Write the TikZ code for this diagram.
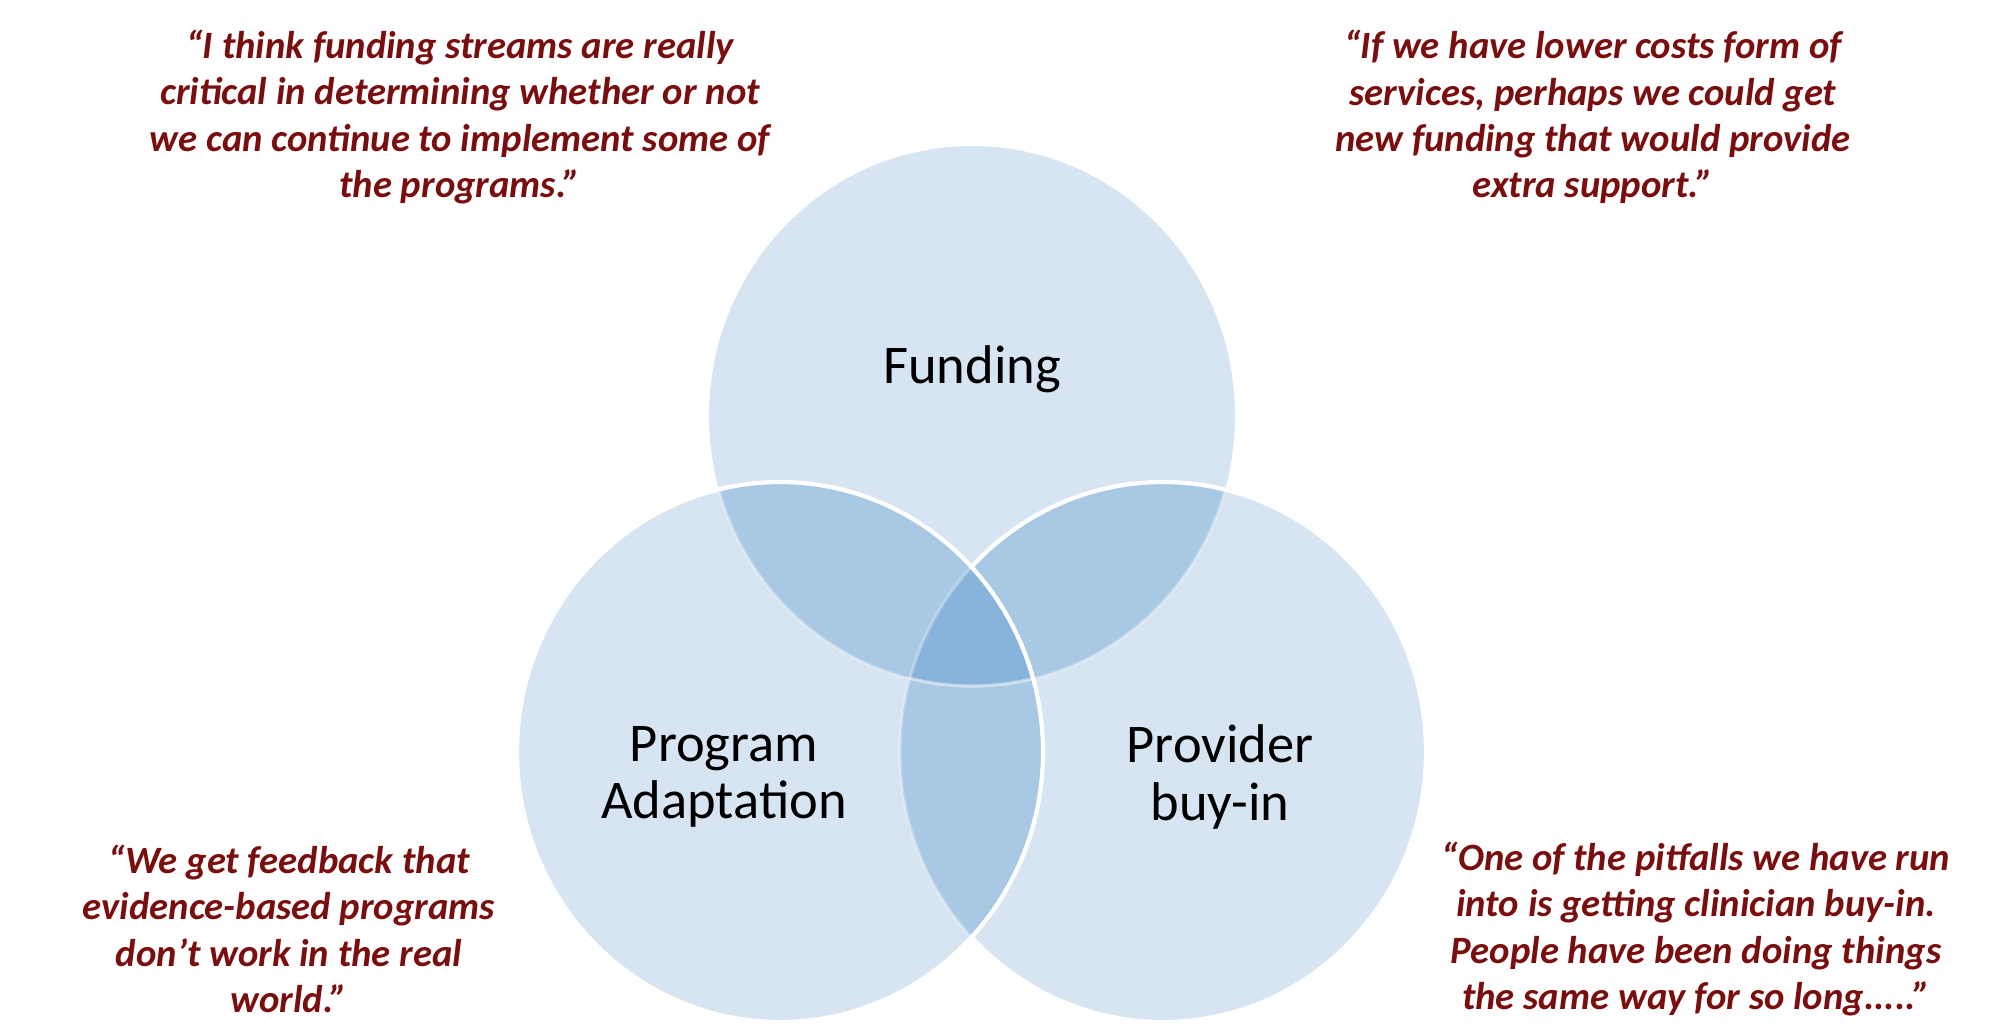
\documentclass[tikz,border=0pt]{standalone}
\usepackage{fontspec}
\setmainfont{Carlito}
\usepackage{tikz}
\usetikzlibrary{calc}
\def\radX{263}
\def\radY{270}
\definecolor{vennblue}{HTML}{D7E5F2}
\definecolor{pairblue}{HTML}{A8C8E4}
\definecolor{tripleblue}{HTML}{88B3DA}
\definecolor{quotered}{HTML}{7A0E0E}
\tikzstyle{quote text} = [align=center, text=quotered, inner sep=0pt, font=\fontsize{11}{13.2}\selectfont\bfseries\itshape]

\begin{document}
\begin{tikzpicture}[x=0.01cm, y=-0.01cm]
    \tikzstyle{venn label}=[align=center, inner sep=0pt, font=\fontsize{15.5}{16.3}\selectfont]
    \tikzstyle{rim}=[draw=white, line width=1.2pt]
    \tikzstyle{faint rim}=[draw=white, draw opacity=0.3, line width=0.9pt]

    \useasboundingbox (0,0) rectangle (2013,1032);

    \coordinate (F) at (972,416);
    \coordinate (A) at (780,752);
    \coordinate (B) at (1163,752);

    % Draw the circles
    \foreach \name in {F,A,B}
        \fill[vennblue] (\name) ellipse [x radius=\radX, y radius=\radY];

    % Draw the overlaps of two
    \begin{scope}
        \clip (F) ellipse [x radius=\radX, y radius=\radY];
        \fill[pairblue] (A) ellipse [x radius=\radX, y radius=\radY];
        \fill[pairblue] (B) ellipse [x radius=\radX, y radius=\radY];
    \end{scope}
    \begin{scope}
        \clip (A) ellipse [x radius=\radX, y radius=\radY];
        \fill[pairblue] (B) ellipse [x radius=\radX, y radius=\radY];
    \end{scope}

    % Draw the overlap of all three
    \begin{scope}
        \clip (F) ellipse [x radius=\radX, y radius=\radY];
        \clip (A) ellipse [x radius=\radX, y radius=\radY];
        \fill[tripleblue] (B) ellipse [x radius=\radX, y radius=\radY];
    \end{scope}

    % Draw the rims
    \foreach \name in {A,B}
    {
        \begin{scope}
            \clip (\name) ellipse [x radius=\radX, y radius=\radY];
            \draw[faint rim] (F) ellipse [x radius=\radX, y radius=\radY];
        \end{scope}
    }
    \begin{scope}
        \clip (A) ellipse [x radius=\radX, y radius=\radY];
        \draw[faint rim] (B) ellipse [x radius=\radX, y radius=\radY];
    \end{scope}
    \begin{scope}[even odd rule]
        \clip (0,0) rectangle (2013,1032) (A) ellipse [x radius=\radX, y radius=\radY];
        \draw[rim] (B) ellipse [x radius=\radX, y radius=\radY];
    \end{scope}
    \draw[rim] (A) ellipse [x radius=\radX, y radius=\radY];

    % Draw the circle labels
    \node[venn label] (funding) at (972,369) {Funding};
    \node[venn label] (adaptation) at (724,777) {Program\\Adaptation};
    \node[venn label] (buyin) at (1220,777) {Provider\\buy-in};

    % Draw the quotes
    \node[quote text] (q-funding) at (460,117)
        {“I think funding streams are really\\critical in determining whether or not\\we can continue to implement some of\\the programs.”};
    \node[quote text] (q-costs) at (1593,117)
        {“If we have lower costs form of\\services, perhaps we could get\\new funding that would provide\\extra support.”};
    \node[quote text] (q-feedback) at (289,929)
        {“We get feedback that\\evidence-based programs\\don’t work in the real\\world.”};
    \node[quote text] (q-pitfalls) at (1696,929)
        {“One of the pitfalls we have run\\into is getting clinician buy-in.\\People have been doing things\\the same way for so long.....”};
\end{tikzpicture}
\end{document}
